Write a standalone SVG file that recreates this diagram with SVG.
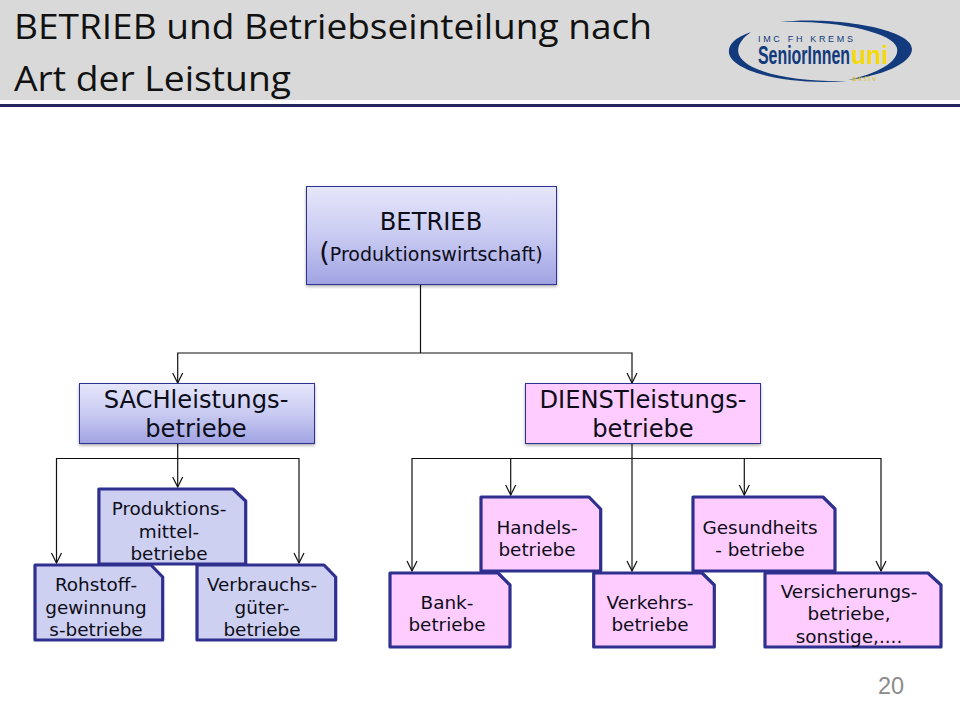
<svg xmlns="http://www.w3.org/2000/svg" width="960" height="720" viewBox="0 0 960 720">
<style>
text{font-family:"DejaVu Sans",Verdana,sans-serif;text-anchor:middle;fill:#0d0d1a}
.title{font-family:"Open Sans","Lato",sans-serif;font-size:35px;text-anchor:start;fill:#111}
.big{font-size:24.2px}
.lab{font-size:18.4px}
.logo{text-anchor:start;font-family:"Liberation Sans",sans-serif}
.rect{stroke:#2e3192;stroke-width:1}
.note{stroke:#2f2f8f;stroke-width:3.2;stroke-linejoin:round}
.v{fill:#cdd0f0}
.p{fill:#ffccff}
#connectors path{fill:none;stroke:#111;stroke-width:1.2}
</style>
<defs>
<linearGradient id="g" x1="0" y1="0" x2="0" y2="1"><stop offset="0" stop-color="#e6e6fa"/><stop offset="0.5" stop-color="#c9cbf2"/><stop offset="1" stop-color="#a0a3e2"/></linearGradient>
<filter id="sh" x="-5%" y="-5%" width="110%" height="115%"><feDropShadow dx="0" dy="1.5" stdDeviation="1.5" flood-color="#000" flood-opacity="0.35"/></filter>
<marker id="a" markerUnits="userSpaceOnUse" markerWidth="12" markerHeight="12" refX="11" refY="6" orient="auto-start-reverse" viewBox="0 0 12 12"><path d="M1 1L11 6L1 11" fill="none" stroke="#111" stroke-width="1.2"/></marker>
</defs>

<g id="header">
<rect x="0" y="0" width="960" height="100" fill="#d9d9d9"/>
<rect x="0" y="104" width="960" height="3" fill="#26265e"/>
<text class="title" x="14" y="39" textLength="638" lengthAdjust="spacingAndGlyphs">BETRIEB und Betriebseinteilung nach</text>
<text class="title" x="14" y="91" textLength="277" lengthAdjust="spacingAndGlyphs">Art der Leistung</text>
</g>

<g id="logo">
<path d="M751 32C733 38 728 46 729 53C732 72 790 86 847 81C800 82 748 74 739 55C736 47 741 39 751 32Z" fill="#123a7c"/>
<path d="M780 22C830 16 912 28 912 49C912 64 880 76 848 80C876 74 900 62 897 48C893 32 835 20 780 22Z" fill="#123a7c"/>
<text class="logo" x="758" y="42" style="font-size:9px;fill:#123a7c" textLength="95">IMC FH KREMS</text>
<text class="logo" x="758" y="64" style="font-weight:bold;font-size:25px;fill:#123a7c" textLength="92" lengthAdjust="spacingAndGlyphs">SeniorInnen</text>
<text class="logo" x="851" y="64" style="font-weight:bold;font-size:25px;fill:#f5d90a" textLength="37" lengthAdjust="spacingAndGlyphs">uni</text>
<text class="logo" x="852" y="81" style="font-size:8px;fill:#d9c21a" textLength="24">aktiv</text>
</g>

<g id="connectors">
<path d="M420.5 285V353"/>
<path d="M177.7 383V353H632V383" marker-start="url(#a)" marker-end="url(#a)"/>
<path d="M177.7 443V487" marker-end="url(#a)"/>
<path d="M56.5 563V458.5H299V563" marker-start="url(#a)" marker-end="url(#a)"/>
<path d="M632 443V571" marker-end="url(#a)"/>
<path d="M412 571V458.5H881V571" marker-start="url(#a)" marker-end="url(#a)"/>
<path d="M510.7 458.5V495" marker-end="url(#a)"/>
<path d="M744.3 458.5V495" marker-end="url(#a)"/>
</g>

<g id="betrieb">
<rect class="rect" x="306.5" y="186.5" width="250" height="98" fill="url(#g)" filter="url(#sh)"/>
<text x="431" y="230" style="font-size:24.2px">BETRIEB</text>
<text x="431" y="261"><tspan style="font-size:27px">(</tspan><tspan style="font-size:19px">Produktionswirtschaft)</tspan></text>
</g>
<g id="sachleistungen">
<rect class="rect" x="79.5" y="383.5" width="235" height="60" fill="url(#g)" filter="url(#sh)"/>
<text class="big" x="196" y="408">SACHleistungs-</text>
<text class="big" x="196" y="437">betriebe</text>
</g>
<g id="dienstleistungen">
<rect class="rect p" x="525.5" y="383.5" width="235" height="60" filter="url(#sh)"/>
<text class="big" x="643" y="408">DIENSTleistungs-</text>
<text class="big" x="643" y="437">betriebe</text>
</g>

<g id="produktionsmittel">
<path class="note v" d="M98.9 489H233L245.7 501V564H98.9Z"/>
<text class="lab" x="169" y="515">Produktions-</text>
<text class="lab" x="169" y="538">mittel-</text>
<text class="lab" x="169" y="560">betriebe</text>
</g>
<g id="rohstoff">
<path class="note v" d="M35 565H151L162.7 577V640H35Z"/>
<text class="lab" x="96" y="591">Rohstoff-</text>
<text class="lab" x="96" y="614">gewinnung</text>
<text class="lab" x="96" y="636">s-betriebe</text>
</g>
<g id="verbrauchsgueter">
<path class="note v" d="M197 565H324L335.7 577V640H197Z"/>
<text class="lab" x="262" y="591">Verbrauchs-</text>
<text class="lab" x="262" y="614">güter-</text>
<text class="lab" x="262" y="636">betriebe</text>
</g>
<g id="handel">
<path class="note p" d="M481 497H589L600.7 509V571H481Z"/>
<text class="lab" x="537" y="534">Handels-</text>
<text class="lab" x="537" y="556">betriebe</text>
</g>
<g id="bank">
<path class="note p" d="M390 573H498L510 585V647H390Z"/>
<text class="lab" x="447" y="609">Bank-</text>
<text class="lab" x="447" y="631">betriebe</text>
</g>
<g id="verkehr">
<path class="note p" d="M593.7 573H702L714.3 585V647H593.7Z"/>
<text class="lab" x="650" y="609">Verkehrs-</text>
<text class="lab" x="650" y="631">betriebe</text>
</g>
<g id="gesundheit">
<path class="note p" d="M693 497H823L835 509V571H693Z"/>
<text class="lab" x="760" y="534">Gesundheits</text>
<text class="lab" x="760" y="556">- betriebe</text>
</g>
<g id="versicherung">
<path class="note p" d="M765 573H928L941 585V647H765Z"/>
<text class="lab" x="849" y="598">Versicherungs-</text>
<text class="lab" x="849" y="620">betriebe,</text>
<text class="lab" x="849" y="643">sonstige,....</text>
</g>
<text x="891" y="694" style="font-family:'Liberation Sans',sans-serif;font-size:23.5px;fill:#8b8b8b">20</text>
</svg>
